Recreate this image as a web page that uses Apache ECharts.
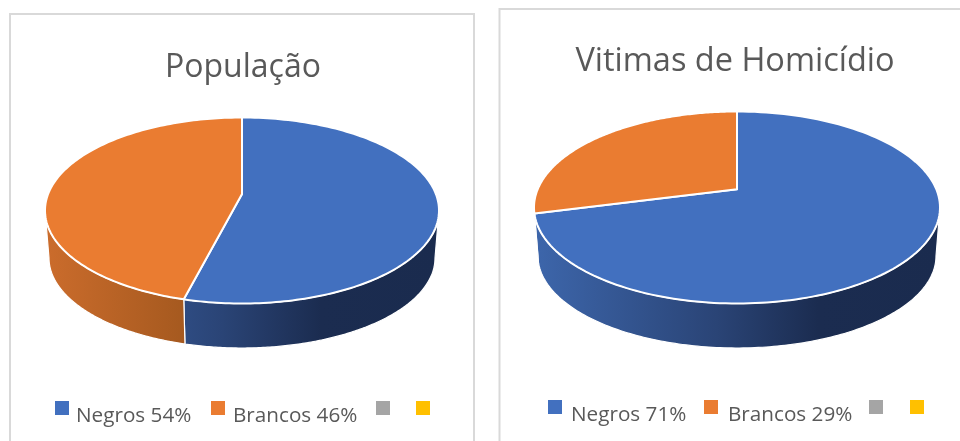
<!DOCTYPE html>
<html>
<head>
<meta charset="utf-8">
<style>html,body{margin:0;padding:0;background:#fff}#c{width:960px;height:441px}</style>
<script src="https://cdn.jsdelivr.net/npm/echarts@6/dist/echarts.min.js"></script>
</head>
<body>
<div id="c"></div>
<script>
const categories = ['Negros', 'Brancos', '', ''];
const populacaoValues = [54, 46, 0, 0];
const homicidioValues = [71, 29, 0, 0];
const titles = ['População', 'Vitimas de Homicídio'];
const topColors = ['#4270bf', '#ea7c31', '#a5a5a5', '#ffc000'];

const panels = [
  { title: titles[0], values: populacaoValues, titleX: 243, titleY: 52, titleSize: 32,
    cx: 242, cy: 210.5, rx: 197, ry: 93, apexY: 194, rx2: 193, ry2: 90, cy2: 258,
    legendX: [55, 211, 376, 416], legendY: 401, textGap: [2, 3, 0, 0] },
  { title: titles[1], values: homicidioValues, titleX: 735, titleY: 45, titleSize: 32.5,
    cx: 737, cy: 207.5, rx: 203, ry: 96, apexY: 189.3, rx2: 199, ry2: 92, cy2: 256,
    legendX: [548, 704, 869, 910], legendY: 400, textGap: [4, 5, 0, 0] }
];

function sideFill(i, p) {
  const x0 = p.cx - p.rx, x1 = p.cx + p.rx;
  const stops = i === 0
    ? [{offset:0,color:'#3d66ab'},{offset:0.45,color:'#2a4476'},{offset:0.7,color:'#1b2c50'},{offset:1,color:'#1a2b4e'}]
    : [{offset:0,color:'#cb6c2c'},{offset:0.36,color:'#a5591f'},{offset:1,color:'#7a3f15'}];
  return new echarts.graphic.LinearGradient(x0, 0, x1, 0, stops, true);
}

// disk -> projected ellipse: the pie centre lands on the off-centre apex (perspective)
function project(p, theta) {
  const k = (p.apexY - p.cy) / p.ry, s = Math.sqrt(1 - k * k);
  const u = Math.sin(theta), v = -Math.cos(theta), d = 1 + k * v;
  return [u * s / d, (v + k) / d];
}
function ellipseAngle(p, theta) {
  if (theta >= Math.PI * 2 - 1e-9) return Math.PI * 1.5;
  const q = project(p, theta);
  let a = Math.atan2(q[1], q[0]);
  if (a < -Math.PI / 2 - 1e-9) a += Math.PI * 2;
  return a;
}

function sliceRenderer(p, index) {
  const total = p.values.reduce((a, b) => a + b, 0);
  const before = p.values.slice(0, index).reduce((a, b) => a + b, 0);
  return function (params, api) {
    const value = api.value(0);
    if (!value) return { type: 'group', children: [] };
    const a0 = ellipseAngle(p, before / total * Math.PI * 2);
    const a1 = ellipseAngle(p, (before + value) / total * Math.PI * 2);
    const N = 160, top = [[p.cx, p.apexY]], children = [];
    for (let i = 0; i <= N; i++) {
      const a = a0 + (a1 - a0) * i / N;
      top.push([p.cx + p.rx * Math.cos(a), p.cy + p.ry * Math.sin(a)]);
    }
    const s0 = Math.max(a0, 0), s1 = Math.min(a1, Math.PI);
    if (s1 > s0) {
      const upper = [], lower = [];
      for (let i = 0; i <= N; i++) {
        const a = s0 + (s1 - s0) * i / N;
        upper.push([p.cx + p.rx * Math.cos(a), p.cy + p.ry * Math.sin(a)]);
        lower.unshift([p.cx + p.rx2 * Math.cos(a), p.cy2 + p.ry2 * Math.sin(a)]);
      }
      children.push({ type: 'polygon', shape: { points: upper.concat(lower) },
        style: { fill: sideFill(index, p), stroke: '#fff', lineWidth: 1.2 } });
    }
    children.push({ type: 'polygon', shape: { points: top },
      style: { fill: topColors[index], stroke: '#fff', lineWidth: 2, lineJoin: 'round' } });
    return { type: 'group', children };
  };
}

const series = [], legends = [];
panels.forEach((p, pi) => {
  categories.forEach((c, i) => {
    const name = c ? c + ' ' + p.values[i] + '%' : ' '.repeat(i);
    series.push({ type: 'custom', coordinateSystem: 'none', name,
      itemStyle: { color: topColors[i] }, data: [[p.values[i]]], silent: true,
      renderItem: sliceRenderer(p, i) });
    legends.push({ data: [{ name, icon: 'rect' }], left: p.legendX[i], top: p.legendY,
      padding: 0, itemWidth: 14, itemHeight: 14, itemGap: 0, selectedMode: false,
      formatter: n => '{s| }{t|' + n + '}',
      textStyle: { fontFamily: 'Open Sans', fontSize: 20.7, color: '#595959',
        rich: {
          s: { fontSize: 1, height: 38, width: 0, padding: [0, 0, 0, p.textGap[i]] },
          t: { fontFamily: 'Open Sans', fontSize: 20.7, color: '#595959', verticalAlign: 'bottom' }
        } } });
  });
});

const chart = echarts.init(document.getElementById('c'), null, { renderer: 'canvas' });
chart.setOption({
  animation: false,
  backgroundColor: '#fff',
  title: panels.map(p => ({ text: p.title, left: p.titleX, top: p.titleY, textAlign: 'center', padding: 0,
    textStyle: { fontFamily: 'Open Sans', fontWeight: 'normal', fontSize: p.titleSize, color: '#595959' } })),
  legend: legends,
  graphic: [
    { type: 'rect', shape: { x: 10, y: 14, width: 464, height: 470 }, z: -1, silent: true,
      style: { fill: 'none', stroke: '#d9d9d9', lineWidth: 2 } },
    { type: 'rect', shape: { x: 499.5, y: 9, width: 520, height: 470 }, z: -1, silent: true,
      style: { fill: 'none', stroke: '#d9d9d9', lineWidth: 2 } }
  ],
  series
});
</script>
</body>
</html>
